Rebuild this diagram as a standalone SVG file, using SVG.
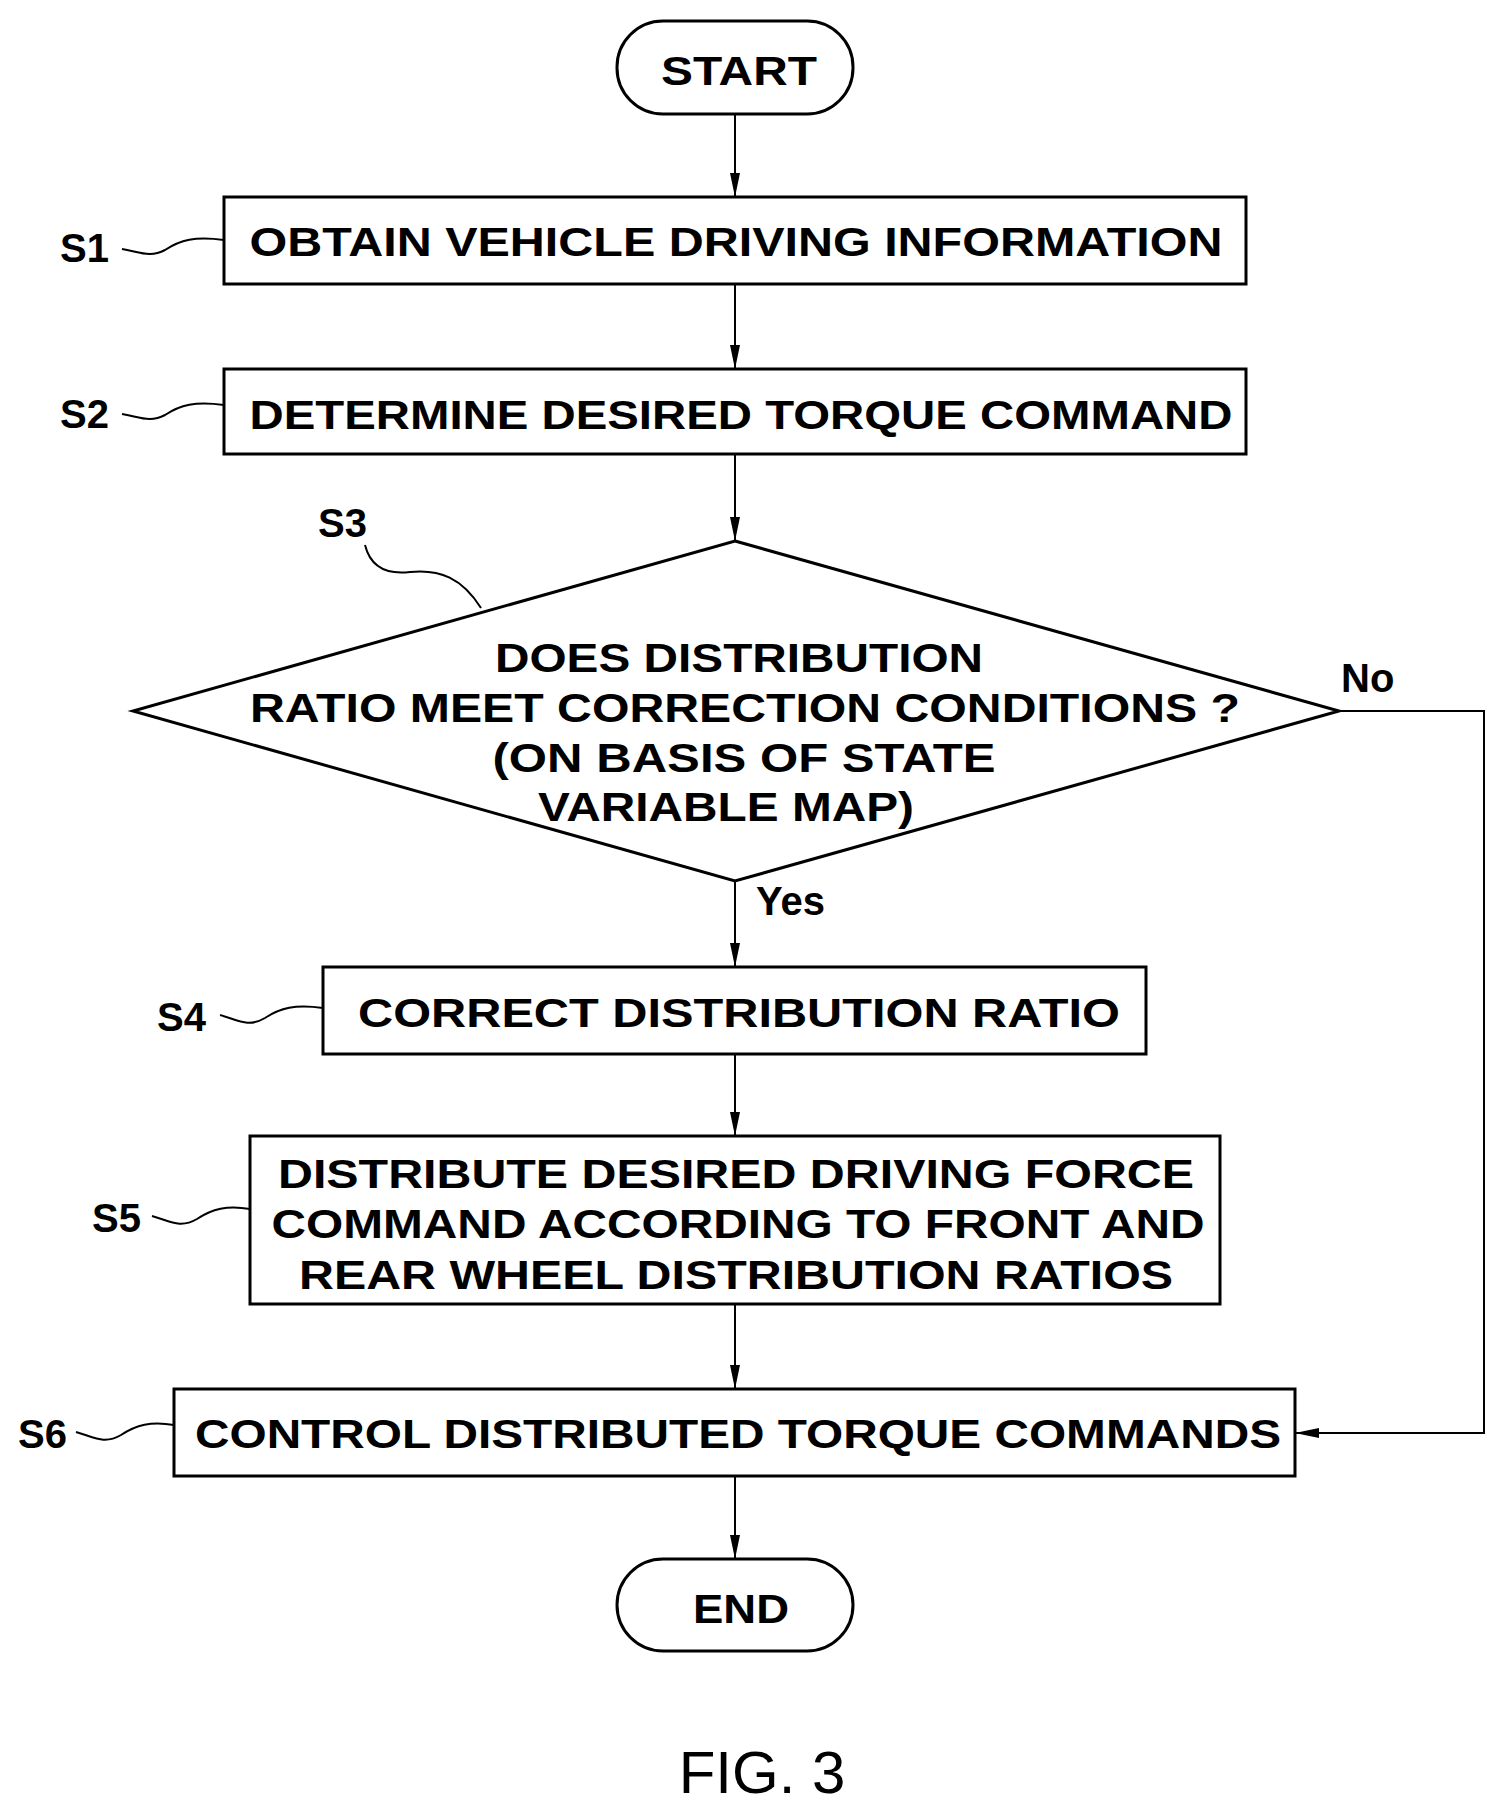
<svg xmlns="http://www.w3.org/2000/svg" width="1507" height="1819" viewBox="0 0 1507 1819">
<style>
.s{fill:#fff;stroke:#000;stroke-width:3}
.t{font-family:"Liberation Sans",Arial,sans-serif;font-weight:bold;font-size:40px;text-anchor:middle;fill:#000}
.l{font-family:"Liberation Sans",Arial,sans-serif;font-weight:bold;font-size:40px;fill:#000}
.c{fill:none;stroke:#000;stroke-width:2}
</style>
<defs><marker id="a" markerWidth="12" markerHeight="24" refX="12" refY="6" orient="auto" markerUnits="userSpaceOnUse" viewBox="0 0 12 12"><path d="M0,2 L12,6 L0,10 Z" fill="#000"/></marker>
<marker id="ah" markerWidth="24" markerHeight="14" refX="24" refY="7" orient="auto" markerUnits="userSpaceOnUse" viewBox="0 0 24 14"><path d="M0,2 L24,7 L0,12 Z" fill="#000"/></marker></defs>
<rect width="1507" height="1819" fill="#fff"/>
<g id="connectors">
<path class="c" d="M735,114 V197" marker-end="url(#ah)"/>
<path class="c" d="M735,284 V369" marker-end="url(#ah)"/>
<path class="c" d="M735,454 V541" marker-end="url(#ah)"/>
<path class="c" d="M735,881 V967" marker-end="url(#ah)"/>
<path class="c" d="M735,1054 V1136" marker-end="url(#ah)"/>
<path class="c" d="M735,1304 V1389" marker-end="url(#ah)"/>
<path class="c" d="M735,1476 V1559" marker-end="url(#ah)"/>
<path class="c" d="M1339,711 H1484 V1433 H1295" marker-end="url(#ah)"/>
<text class="l" x="756" y="915">Yes</text>
<text class="l" x="1341" y="692">No</text>
</g>
<g id="start"><rect class="s" x="617" y="21" width="236" height="93" rx="46"/><text class="t" x="739" y="85" textLength="156" lengthAdjust="spacingAndGlyphs">START</text></g>
<g id="s1"><rect class="s" x="224" y="197" width="1022" height="87"/><text class="t" x="736" y="256" textLength="973" lengthAdjust="spacingAndGlyphs">OBTAIN VEHICLE DRIVING INFORMATION</text>
<text class="l" x="60" y="262">S1</text><path class="c" d="M122,249 C140,252 150,258 165,250 C180,240 195,236 224,240"/></g>
<g id="s2"><rect class="s" x="224" y="369" width="1022" height="85"/><text class="t" x="741" y="429" textLength="983" lengthAdjust="spacingAndGlyphs">DETERMINE DESIRED TORQUE COMMAND</text>
<text class="l" x="60" y="428">S2</text><path class="c" d="M122,414 C140,417 150,423 165,415 C180,405 195,401 224,405"/></g>
<g id="s3"><path class="s" d="M735,541 L1339,711 L735,881 L133,711 Z"/>
<text class="t" x="739" y="672" textLength="488" lengthAdjust="spacingAndGlyphs">DOES DISTRIBUTION</text>
<text class="t" x="745" y="722" textLength="990" lengthAdjust="spacingAndGlyphs">RATIO MEET CORRECTION CONDITIONS ?</text>
<text class="t" x="744" y="772" textLength="503" lengthAdjust="spacingAndGlyphs">(ON BASIS OF STATE</text>
<text class="t" x="726" y="821" textLength="376" lengthAdjust="spacingAndGlyphs">VARIABLE MAP)</text>
<text class="l" x="318" y="537">S3</text><path class="c" d="M365,545 C370,565 385,575 410,572 C440,569 462,578 481,608"/></g>
<g id="s4"><rect class="s" x="323" y="967" width="823" height="87"/><text class="t" x="739" y="1027" textLength="762" lengthAdjust="spacingAndGlyphs">CORRECT DISTRIBUTION RATIO</text>
<text class="l" x="157" y="1031">S4</text><path class="c" d="M220,1015 C238,1020 248,1028 265,1018 C280,1008 295,1004 323,1008"/></g>
<g id="s5"><rect class="s" x="250" y="1136" width="970" height="168"/>
<text class="t" x="736" y="1188" textLength="916" lengthAdjust="spacingAndGlyphs">DISTRIBUTE DESIRED DRIVING FORCE</text>
<text class="t" x="738" y="1238" textLength="933" lengthAdjust="spacingAndGlyphs">COMMAND ACCORDING TO FRONT AND</text>
<text class="t" x="736" y="1289" textLength="874" lengthAdjust="spacingAndGlyphs">REAR WHEEL DISTRIBUTION RATIOS</text>
<text class="l" x="92" y="1232">S5</text><path class="c" d="M152,1216 C170,1221 180,1229 197,1219 C212,1209 227,1205 250,1209"/></g>
<g id="s6"><rect class="s" x="174" y="1389" width="1121" height="87"/><text class="t" x="738" y="1448" textLength="1086" lengthAdjust="spacingAndGlyphs">CONTROL DISTRIBUTED TORQUE COMMANDS</text>
<text class="l" x="18" y="1448">S6</text><path class="c" d="M76,1432 C94,1437 104,1445 121,1435 C136,1425 151,1421 174,1425"/></g>
<g id="end"><rect class="s" x="617" y="1559" width="236" height="92" rx="46"/><text class="t" x="741" y="1623" textLength="96" lengthAdjust="spacingAndGlyphs">END</text></g>
<text x="762" y="1793" font-family="Liberation Sans,Arial,sans-serif" font-size="60" text-anchor="middle">FIG. 3</text>
</svg>
